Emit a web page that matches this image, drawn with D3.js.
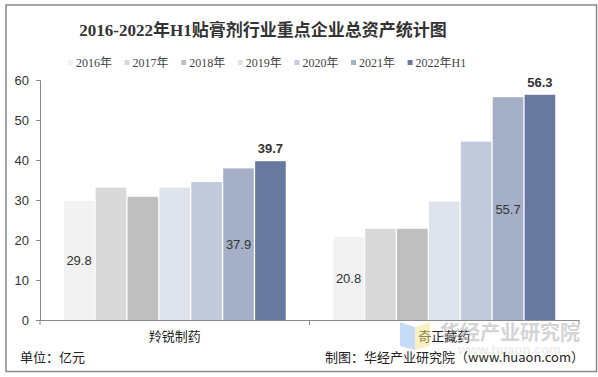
<!DOCTYPE html>
<html lang="zh">
<head>
  <meta charset="UTF-8">
  <title>2016-2022年H1贴膏剂行业重点企业总资产统计图</title>
  <script src="https://d3js.org/d3.v7.min.js"></script>
  <style>
    body { margin: 0; background: #fff; }
    svg text { font-family: "Liberation Sans", Arial, "Noto Sans CJK SC", sans-serif; }
  </style>
</head>
<body>
  <div id="chart"></div>

  <script>
    // 数据
    const companies = ["羚锐制药", "奇正藏药"];
    const years = ["2016年", "2017年", "2018年", "2019年", "2020年", "2021年", "2022年H1"];
    const lingrui = [29.8, 33.1, 30.8, 33.1, 34.5, 37.9, 39.7];
    const qizheng = [20.8, 22.8, 22.8, 29.6, 44.6, 55.7, 56.3];
    const yTicks = [0, 10, 20, 30, 40, 50, 60];
    const colors = ["#f2f2f2", "#d9d9d9", "#bfbfbf", "#dfe3ec", "#c3cadb", "#a5b0c8", "#67799f"];
    // 哪些柱子显示数值: 0 内部, 5 内部, 6 顶部
    const insideLabels = [0, 5];
    const topLabels = [6];

    const W = 598, H = 377;
    const svg = d3.select("#chart").append("svg")
      .attr("width", W).attr("height", H);

    // 外框
    svg.append("rect")
      .attr("x", 6).attr("y", 5)
      .attr("width", 590.5).attr("height", 366.5)
      .attr("fill", "none").attr("stroke", "#888").attr("stroke-width", 1.5);

    // 标题
    svg.append("text")
      .attr("x", 263).attr("y", 36)
      .attr("text-anchor", "middle")
      .style("font-family", "'Liberation Serif', 'Noto Sans CJK SC', serif")
      .style("font-size", "17px").style("font-weight", "bold")
      .attr("fill", "#333")
      .text("2016-2022年H1贴膏剂行业重点企业总资产统计图");

    const margin = { left: 40, right: 579, top: 80, bottom: 320 };

    const x0 = d3.scaleBand().domain(companies).range([margin.left, margin.right]);
    const x1 = d3.scaleBand().domain(years).range([0, 222]).paddingInner(0.04);
    const y = d3.scaleLinear().domain([0, 60]).range([margin.bottom, margin.top]);

    const series = [lingrui, qizheng];

    // 柱子
    companies.forEach((c, ci) => {
      const g = svg.append("g")
        .attr("transform", `translate(${x0(c) + (x0.bandwidth() - 222) / 2},0)`);
      g.selectAll("rect")
        .data(series[ci])
        .enter().append("rect")
        .attr("x", (d, i) => x1(years[i]))
        .attr("y", d => y(d))
        .attr("width", x1.bandwidth())
        .attr("height", d => y(0) - y(d))
        .attr("fill", (d, i) => colors[i]);

      g.selectAll("text.in")
        .data(series[ci].map((v, i) => ({ v, i })).filter(d => insideLabels.includes(d.i)))
        .enter().append("text")
        .attr("class", "in")
        .attr("x", d => x1(years[d.i]) + x1.bandwidth() / 2)
        .attr("y", d => (y(d.v) + y(0)) / 2 + 5)
        .attr("text-anchor", "middle")
        .style("font-size", "13px")
        .attr("fill", "#333")
        .text(d => d.v.toFixed(1));

      g.selectAll("text.top")
        .data(series[ci].map((v, i) => ({ v, i })).filter(d => topLabels.includes(d.i)))
        .enter().append("text")
        .attr("class", "top")
        .attr("x", d => x1(years[d.i]) + x1.bandwidth() / 2)
        .attr("y", d => y(d.v) - 8)
        .attr("text-anchor", "middle")
        .style("font-size", "13px").style("font-weight", "bold")
        .attr("fill", "#333")
        .text(d => d.v.toFixed(1));
    });

    // Y 轴
    const yAxis = svg.append("g")
      .attr("transform", `translate(${margin.left},0)`)
      .call(d3.axisLeft(y).tickValues(yTicks).tickSize(4).tickPadding(7));
    yAxis.select(".domain").attr("stroke", "#888");
    yAxis.selectAll(".tick line").attr("stroke", "#888");
    yAxis.selectAll(".tick text")
      .style("font-size", "13px").attr("fill", "#333")
      .style("font-family", "'Liberation Sans', Arial, sans-serif");

    // X 轴
    const xAxis = svg.append("g")
      .attr("transform", `translate(0,${margin.bottom})`)
      .call(d3.axisBottom(x0).tickSize(0).tickPadding(12));
    xAxis.select(".domain").attr("stroke", "#888");
    xAxis.selectAll(".tick text")
      .style("font-size", "13px").attr("fill", "#222")
      .style("font-family", "'Noto Sans CJK SC', sans-serif");
    // 分组刻度线
    svg.append("g").selectAll("line")
      .data([margin.left, x0.range()[0] + x0.step(), margin.right])
      .enter().append("line")
      .attr("x1", d => d).attr("x2", d => d)
      .attr("y1", margin.bottom).attr("y2", margin.bottom + 5)
      .attr("stroke", "#888");

    // 图例
    const legend = svg.append("g");
    years.forEach((yr, i) => {
      const lx = 68 + i * 56.6;
      legend.append("rect")
        .attr("x", lx).attr("y", 60)
        .attr("width", 5).attr("height", 5)
        .attr("fill", colors[i]);
      legend.append("text")
        .attr("x", lx + 8).attr("y", 67)
        .style("font-family", "'Liberation Serif', 'Noto Sans CJK SC', serif")
        .style("font-size", "12px").attr("fill", "#444")
        .text(yr);
    });

    // 水印
    const wm = svg.append("g").attr("opacity", 0.5);
    wm.append("path")
      .attr("d", "M400,322 L415,327 L415,350 L400,346 Z")
      .attr("fill", "#8fb8f0");
    wm.append("path")
      .attr("d", "M415,327 L430,322 L430,346 L415,350 Z")
      .attr("fill", "#f6e38a");
    wm.append("text")
      .attr("x", 440).attr("y", 340)
      .style("font-family", "'Noto Sans CJK SC', sans-serif")
      .style("font-size", "20px").style("font-weight", "bold")
      .attr("fill", "#aaa")
      .text("华经产业研究院");
    wm.append("text")
      .attr("x", 458).attr("y", 354)
      .style("font-size", "13px").style("font-weight", "bold")
      .attr("fill", "#ddd")
      .text("www.huaon.com");

    // 底部文字
    svg.append("text")
      .attr("x", 20).attr("y", 362)
      .style("font-family", "'Noto Sans CJK SC', sans-serif")
      .style("font-size", "13px").attr("fill", "#222")
      .text("单位：亿元");
    svg.append("text")
      .attr("x", 584).attr("y", 362)
      .attr("text-anchor", "end")
      .style("font-family", "'Noto Sans CJK SC', sans-serif")
      .style("font-size", "13px").attr("fill", "#222")
      .text("制图：华经产业研究院（www.huaon.com）");
  </script>
</body>
</html>
